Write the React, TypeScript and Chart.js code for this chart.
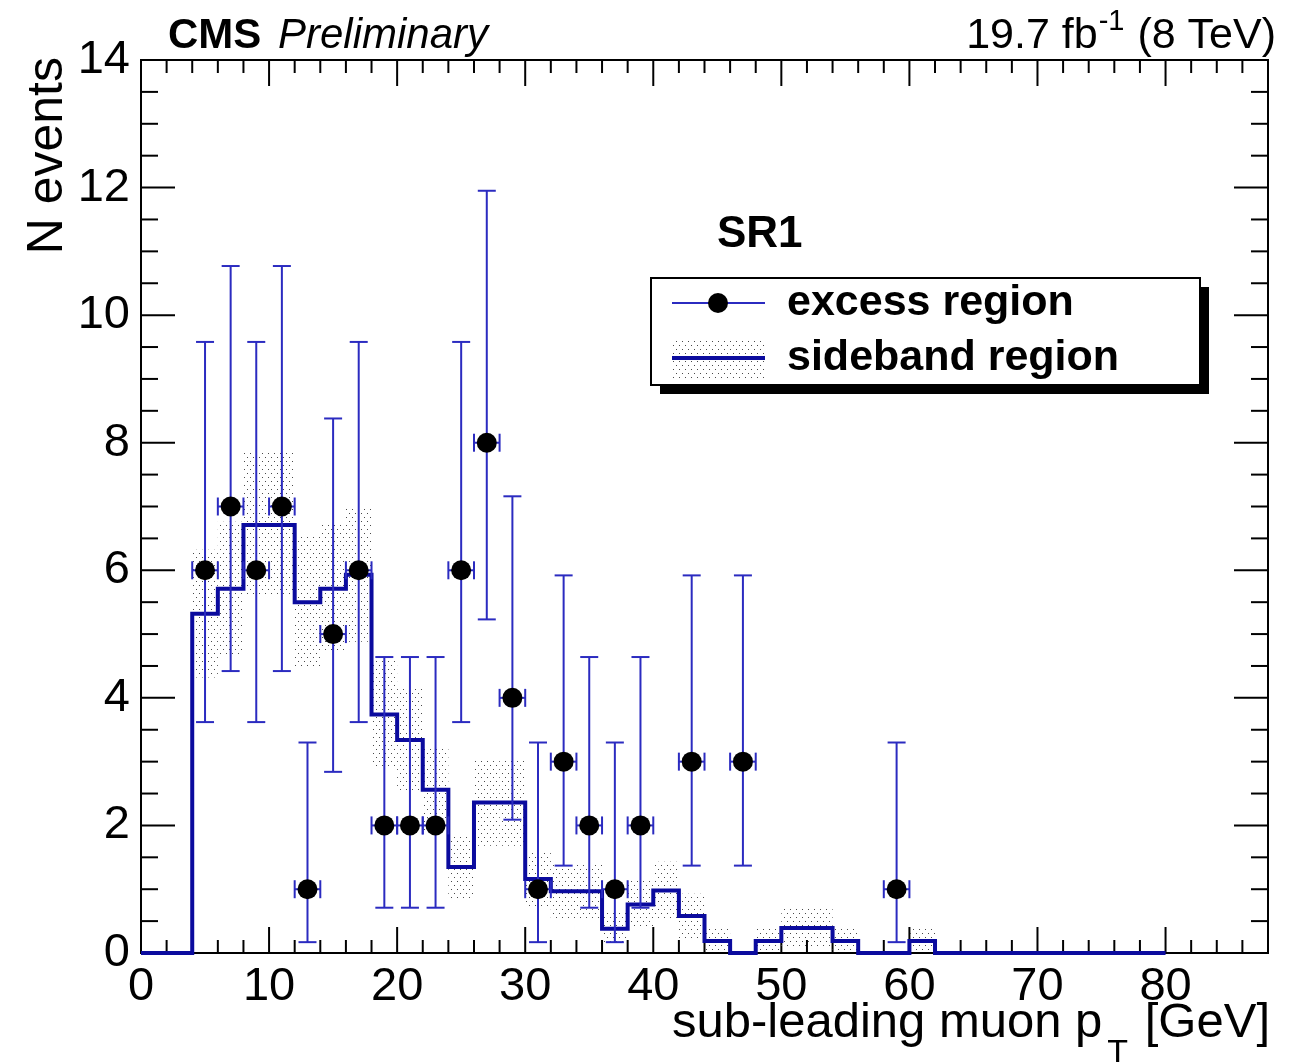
import React, { useEffect, useRef } from 'react';
import { Chart, registerables } from 'chart.js';

Chart.register(...registerables);

const FONT = "'Liberation Sans', Arial, Helvetica, sans-serif";

// ---- excess region (data points, Poisson errors) ----
const excessX = [5, 7, 9, 11, 13, 15, 17, 19, 21, 23, 25, 27, 29, 31, 33, 35, 37, 39, 43, 47, 59];
const excessY = [6, 7, 6, 7, 1, 5, 6, 2, 2, 2, 6, 8, 4, 1, 3, 2, 1, 2, 3, 3, 1];
const excessLo = [3.62, 4.42, 3.62, 4.42, 0.17, 2.84, 3.62, 0.71, 0.71, 0.71, 3.62, 5.23, 2.09, 0.17, 1.37, 0.71, 0.17, 0.71, 1.37, 1.37, 0.17];
const excessHi = [9.58, 10.77, 9.58, 10.77, 3.3, 8.38, 9.58, 4.64, 4.64, 4.64, 9.58, 11.95, 7.16, 3.3, 5.92, 4.64, 3.3, 4.64, 5.92, 5.92, 3.3];
const excessXErr = [1, 1, 1, 1, 1, 1, 1, 1, 1, 1, 1, 1, 1, 1, 1, 1, 1, 1, 1, 1, 1];

// ---- sideband region (step histogram, bin width 2 GeV) ----
const binLowEdges = [0, 2, 4, 6, 8, 10, 12, 14, 16, 18, 20, 22, 24, 26, 28, 30, 32, 34, 36, 38, 40, 42, 44, 46, 48, 50, 52, 54, 56, 58, 60, 62, 64, 66, 68, 70, 72, 74, 76, 78];
const binUpEdge = 80;
const sidebandY = [0, 0, 5.32, 5.71, 6.71, 6.71, 5.5, 5.71, 5.93, 3.74, 3.34, 2.56, 1.35, 2.36, 2.36, 1.16, 0.97, 0.97, 0.38, 0.76, 0.98, 0.58, 0.19, 0, 0.19, 0.39, 0.39, 0.19, 0, 0, 0.19, 0, 0, 0, 0, 0, 0, 0, 0, 0];
const sidebandErr = [0, 0, 1.0, 1.05, 1.13, 1.13, 1.03, 1.0, 1.05, 0.85, 0.8, 0.65, 0.5, 0.68, 0.68, 0.45, 0.45, 0.45, 0.25, 0.37, 0.45, 0.35, 0.2, 0, 0.2, 0.3, 0.3, 0.2, 0, 0, 0.2, 0, 0, 0, 0, 0, 0, 0, 0, 0];

// ---- axes ----
const xMin = 0;
const xMax = 88;
const yMin = 0;
const yMax = 14;
const xTickValues = [0, 10, 20, 30, 40, 50, 60, 70, 80];
const yTickValues = [0, 2, 4, 6, 8, 10, 12, 14];

const ERR_COLOR = '#2b2bc0';
const HIST_COLOR = '#0b0b9e';

export default function App() {
  const ref = useRef<HTMLCanvasElement>(null);

  useEffect(() => {
    const canvas = ref.current!;
    const ctx0 = canvas.getContext('2d')!;
    const tile = document.createElement('canvas');
    tile.width = 6;
    tile.height = 8;
    const tctx = tile.getContext('2d')!;
    tctx.fillStyle = '#4a4a4a';
    tctx.fillRect(1, 1, 1, 1);
    tctx.fillRect(4, 5, 1, 1);
    const pattern = ctx0.createPattern(tile, 'repeat')!;

    const histData = binLowEdges.map((e, i) => ({ x: e, y: sidebandY[i] }));
    histData.push({ x: binUpEdge, y: sidebandY[sidebandY.length - 1] });

    const bandData = binLowEdges.map((e, i) => ({
      x: e + 1,
      y: [Math.max(0, sidebandY[i] - sidebandErr[i]), sidebandY[i] + sidebandErr[i]],
    }));

    const pointData = excessX.map((x, i) => ({ x, y: excessY[i] }));

    const line = (ctx: CanvasRenderingContext2D, x1: number, y1: number, x2: number, y2: number) => {
      ctx.beginPath();
      ctx.moveTo(x1, y1);
      ctx.lineTo(x2, y2);
      ctx.stroke();
    };

    const rootPlugin = {
      id: 'rootStyle',
      beforeDatasetsDraw(chart: any) {
        const ctx = chart.ctx as CanvasRenderingContext2D;
        const xs = chart.scales.x;
        const ys = chart.scales.y;
        const { left, right, top, bottom } = chart.chartArea;
        ctx.save();
        ctx.strokeStyle = '#000';
        ctx.lineWidth = 2;
        ctx.strokeRect(left, top, right - left, bottom - top);
        for (let v = xMin; v <= xMax; v += 2) {
          const px = xs.getPixelForValue(v);
          const len = v % 10 === 0 ? 26 : 13;
          line(ctx, px, bottom, px, bottom - len);
          line(ctx, px, top, px, top + len);
        }
        for (let i = 0; i <= (yMax - yMin) * 2; i++) {
          const v = yMin + i * 0.5;
          const py = ys.getPixelForValue(v);
          const len = i % 4 === 0 ? 34 : 17;
          line(ctx, left, py, left + len, py);
          line(ctx, right, py, right - len, py);
        }
        ctx.restore();
      },
      beforeDatasetDraw(chart: any, args: any) {
        if (args.index !== 0) return;
        const ctx = chart.ctx as CanvasRenderingContext2D;
        const xs = chart.scales.x;
        const ys = chart.scales.y;
        ctx.save();
        ctx.strokeStyle = ERR_COLOR;
        ctx.lineWidth = 2;
        const cap = 9;
        excessX.forEach((x, i) => {
          const px = xs.getPixelForValue(x);
          const py = ys.getPixelForValue(excessY[i]);
          const pLo = ys.getPixelForValue(excessLo[i]);
          const pHi = ys.getPixelForValue(excessHi[i]);
          const xl = xs.getPixelForValue(x - excessXErr[i]);
          const xr = xs.getPixelForValue(x + excessXErr[i]);
          line(ctx, px, pLo, px, pHi);
          line(ctx, px - cap, pLo, px + cap, pLo);
          line(ctx, px - cap, pHi, px + cap, pHi);
          line(ctx, xl, py, xr, py);
          line(ctx, xl, py - cap, xl, py + cap);
          line(ctx, xr, py - cap, xr, py + cap);
        });
        ctx.restore();
      },
      afterDraw(chart: any) {
        const ctx = chart.ctx as CanvasRenderingContext2D;
        const { right, top, bottom } = chart.chartArea;
        ctx.save();
        ctx.fillStyle = '#000';
        ctx.textBaseline = 'alphabetic';

        // CMS Preliminary
        ctx.textAlign = 'left';
        ctx.font = `bold 42px ${FONT}`;
        ctx.fillText('CMS', 168, 48);
        ctx.font = `italic 42px ${FONT}`;
        ctx.fillText('Preliminary', 278, 48);

        // Lumi label: 19.7 fb^-1 (8 TeV)
        ctx.font = `43px ${FONT}`;
        const partA = '19.7 fb';
        const partC = ' (8 TeV)';
        const wA = ctx.measureText(partA).width;
        const wC = ctx.measureText(partC).width;
        ctx.font = `29px ${FONT}`;
        const wB = ctx.measureText('-1').width;
        const endX = 1276;
        const startX = endX - wA - wB - wC - 2;
        ctx.font = `43px ${FONT}`;
        ctx.fillText(partA, startX, 48);
        ctx.font = `29px ${FONT}`;
        ctx.fillText('-1', startX + wA + 1, 30);
        ctx.font = `43px ${FONT}`;
        ctx.fillText(partC, startX + wA + wB + 2, 48);

        // SR1
        ctx.font = `bold 44px ${FONT}`;
        ctx.fillText('SR1', 717, 247);

        // y-axis title
        ctx.save();
        ctx.font = `50px ${FONT}`;
        ctx.translate(62, top - 3);
        ctx.rotate(-Math.PI / 2);
        ctx.textAlign = 'right';
        ctx.fillText('N events', 0, 0);
        ctx.restore();

        // x-axis title with subscript
        ctx.font = `49px ${FONT}`;
        const t1 = 'sub-leading muon p';
        const t3 = ' [GeV]';
        const w1 = ctx.measureText(t1).width;
        const w3 = ctx.measureText(t3).width;
        ctx.font = `34px ${FONT}`;
        const w2 = ctx.measureText('T').width;
        const xEnd = right + 2;
        const xs0 = xEnd - w1 - w2 - w3 - 8;
        const base = bottom + 84;
        ctx.font = `49px ${FONT}`;
        ctx.fillText(t1, xs0, base);
        ctx.font = `34px ${FONT}`;
        ctx.fillText('T', xs0 + w1 + 5, base + 26);
        ctx.font = `49px ${FONT}`;
        ctx.fillText(t3, xs0 + w1 + w2 + 8, base);

        // Legend box with shadow
        const lx = 651, ly = 278, lw = 549, lh = 107;
        ctx.fillStyle = '#000';
        ctx.fillRect(lx + 9, ly + 9, lw, lh);
        ctx.fillStyle = '#fff';
        ctx.fillRect(lx, ly, lw, lh);
        ctx.strokeStyle = '#000';
        ctx.lineWidth = 2;
        ctx.strokeRect(lx, ly, lw, lh);

        // entry 1: excess region
        ctx.strokeStyle = ERR_COLOR;
        ctx.lineWidth = 2;
        line(ctx, 672, 303, 765, 303);
        ctx.fillStyle = '#000';
        ctx.beginPath();
        ctx.arc(718, 303, 10, 0, Math.PI * 2);
        ctx.fill();
        // entry 2: sideband region
        ctx.fillStyle = pattern;
        ctx.fillRect(672, 338, 93, 40);
        ctx.strokeStyle = HIST_COLOR;
        ctx.lineWidth = 4;
        line(ctx, 672, 358, 765, 358);

        ctx.fillStyle = '#000';
        ctx.font = `bold 43px ${FONT}`;
        ctx.textAlign = 'left';
        ctx.fillText('excess region', 787, 315);
        ctx.fillText('sideband region', 787, 370);
        ctx.restore();
      },
    };

    const chart = new Chart(canvas, {
      type: 'bar',
      data: {
        datasets: [
          {
            type: 'line',
            label: 'excess region',
            data: pointData,
            showLine: false,
            pointRadius: 10,
            pointStyle: 'circle',
            pointBackgroundColor: '#000',
            pointBorderColor: '#000',
            pointBorderWidth: 0,
            order: 0,
            clip: false,
          } as any,
          {
            type: 'line',
            label: 'sideband region',
            data: histData,
            stepped: true,
            borderColor: HIST_COLOR,
            borderWidth: 4,
            pointRadius: 0,
            fill: false,
            tension: 0,
            borderCapStyle: 'butt',
            borderJoinStyle: 'miter',
            order: 1,
            clip: false,
          } as any,
          {
            type: 'bar',
            label: 'sideband uncertainty',
            data: bandData,
            backgroundColor: pattern,
            borderWidth: 0,
            barPercentage: 1,
            categoryPercentage: 1,
            inflateAmount: 0,
            order: 2,
          } as any,
        ],
      },
      options: {
        responsive: false,
        animation: false,
        devicePixelRatio: 1,
        events: [],
        layout: { padding: { left: 0, top: 60, right: 33, bottom: 0 } },
        plugins: {
          legend: { display: false },
          tooltip: { enabled: false },
          title: { display: false },
        },
        scales: {
          x: {
            type: 'linear',
            min: xMin,
            max: xMax,
            offset: false,
            grid: { display: false, drawTicks: false },
            border: { display: false },
            afterBuildTicks: (scale: any) => {
              scale.ticks = xTickValues.map((v) => ({ value: v }));
            },
            afterFit: (scale: any) => {
              scale.height = 109;
            },
            ticks: {
              autoSkip: false,
              maxRotation: 0,
              minRotation: 0,
              padding: 6,
              color: '#000',
              font: { family: FONT, size: 47 },
              callback: (v: any) => String(v),
            },
          },
          y: {
            type: 'linear',
            min: yMin,
            max: yMax,
            grid: { display: false, drawTicks: false },
            border: { display: false },
            afterBuildTicks: (scale: any) => {
              scale.ticks = yTickValues.map((v) => ({ value: v }));
            },
            afterFit: (scale: any) => {
              scale.width = 141;
            },
            ticks: {
              padding: 11,
              color: '#000',
              font: { family: FONT, size: 47 },
              callback: (v: any) => String(v),
            },
          },
        },
      } as any,
      plugins: [rootPlugin],
    });

    return () => chart.destroy();
  }, []);

  return (
    <div style={{ position: 'absolute', left: 0, top: 0, width: 1301, height: 1062, background: '#fff', overflow: 'hidden' }}>
      <canvas ref={ref} width={1301} height={1062} style={{ display: 'block', width: 1301, height: 1062 }} />
    </div>
  );
}
